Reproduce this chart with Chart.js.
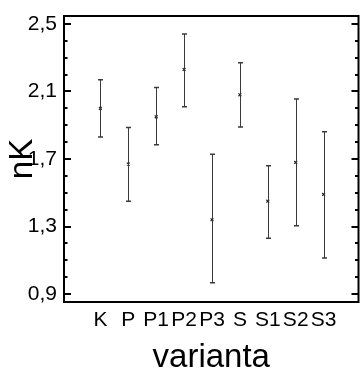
<!DOCTYPE html>
<html>
<head>
<meta charset="utf-8">
<script src="https://cdn.jsdelivr.net/npm/chart.js@4/dist/chart.umd.min.js"></script>
<style>
  html, body { margin: 0; padding: 0; background: #fff; }
  #wrap { width: 360px; height: 374px; }
</style>
</head>
<body>
<div id="wrap"><canvas id="chart" width="360" height="374"></canvas></div>
<script>
// values
const categories = ['K', 'P', 'P1', 'P2', 'P3', 'S', 'S1', 'S2', 'S3'];
const means = [2.00, 1.67, 1.95, 2.23, 1.34, 2.08, 1.45, 1.68, 1.49];
const lower = [1.83, 1.45, 1.785, 2.01, 0.967, 1.89, 1.23, 1.305, 1.113];
const upper = [2.17, 1.886, 2.123, 2.44, 1.728, 2.27, 1.66, 2.056, 1.862];
const yTicks = [0.9, 1.0, 1.1, 1.2, 1.3, 1.4, 1.5, 1.6, 1.7, 1.8, 1.9, 2.0, 2.1, 2.2, 2.3, 2.4, 2.5];
const yLabels = [0.9, 1.3, 1.7, 2.1, 2.5];

const FONT = "'Liberation Sans', Arial, sans-serif";
const isMajor = v => yLabels.some(l => Math.abs(l - v) < 1e-6);

// error bars + frame with inward ticks
const decor = {
  id: 'decor',
  afterDatasetsDraw(chart) {
    const { ctx, chartArea: a, scales: { x, y } } = chart;
    ctx.save();
    ctx.strokeStyle = '#3a3a3a';
    ctx.lineWidth = 1;
    means.forEach((m, i) => {
      const px = Math.round(x.getPixelForValue(i + 1)) + 0.5;
      const top = y.getPixelForValue(upper[i]);
      const bot = y.getPixelForValue(lower[i]);
      ctx.beginPath();
      ctx.moveTo(px, top); ctx.lineTo(px, bot);
      ctx.stroke();
      ctx.lineWidth = 1.5;
      ctx.beginPath();
      ctx.moveTo(px - 2.5, top); ctx.lineTo(px + 2.5, top);
      ctx.moveTo(px - 2.5, bot); ctx.lineTo(px + 2.5, bot);
      ctx.stroke();
      ctx.lineWidth = 1;
    });

    ctx.strokeStyle = '#000';
    ctx.lineWidth = 2;
    ctx.strokeRect(a.left, a.top, a.right - a.left, a.bottom - a.top);
    yTicks.forEach(v => {
      const py = Math.round(y.getPixelForValue(v));
      const len = isMajor(v) ? 7 : 3.5;
      ctx.beginPath();
      ctx.moveTo(a.left, py); ctx.lineTo(a.left + len, py);
      ctx.moveTo(a.right, py); ctx.lineTo(a.right - len, py);
      ctx.stroke();
    });
    ctx.restore();
  }
};

new Chart(document.getElementById('chart'), {
  type: 'scatter',
  data: {
    datasets: [{
      data: means.map((m, i) => ({ x: i + 1, y: m })),
      pointStyle: 'crossRot',
      pointRadius: 2,
      borderColor: '#222',
      borderWidth: 1.2,
      backgroundColor: '#222',
    }],
  },
  options: {
    responsive: false,
    animation: false,
    events: [],
    layout: { autoPadding: false, padding: { top: 16, right: 1.5, left: 0, bottom: 0 } },
    plugins: {
      legend: { display: false },
      tooltip: { enabled: false },
    },
    scales: {
      x: {
        type: 'linear',
        min: -0.304,
        max: 10.25,
        border: { display: false },
        grid: { display: false, drawTicks: false },
        afterBuildTicks: s => { s.ticks = categories.map((c, i) => ({ value: i + 1 })); },
        afterFit: s => { s.height = 72; s.paddingLeft = 0; s.paddingRight = 0; },
        ticks: {
          autoSkip: false,
          maxRotation: 0,
          padding: 6,
          color: '#000',
          font: { family: FONT, size: 21 },
          callback: v => categories[v - 1],
        },
        title: {
          display: true,
          text: 'varianta',
          color: '#000',
          font: { family: FONT, size: 33 },
          padding: { top: 0, bottom: -4 },
        },
      },
      y: {
        min: 0.853,
        max: 2.547,
        border: { display: false },
        grid: { display: false, drawTicks: false },
        afterBuildTicks: s => { s.ticks = yTicks.map(v => ({ value: v })); },
        afterFit: s => { s.width = 64; s.paddingTop = 0; s.paddingBottom = 0; },
        ticks: {
          autoSkip: false,
          padding: 7,
          color: '#000',
          font: { family: FONT, size: 21 },
          callback: v => isMajor(v) ? v.toFixed(1).replace('.', ',') : '',
        },
        title: {
          display: true,
          text: 'nK',
          color: '#000',
          font: { family: FONT, size: 33 },
          padding: { top: 3, bottom: 0 },
        },
      },
    },
  },
  plugins: [decor],
});
</script>
</body>
</html>
